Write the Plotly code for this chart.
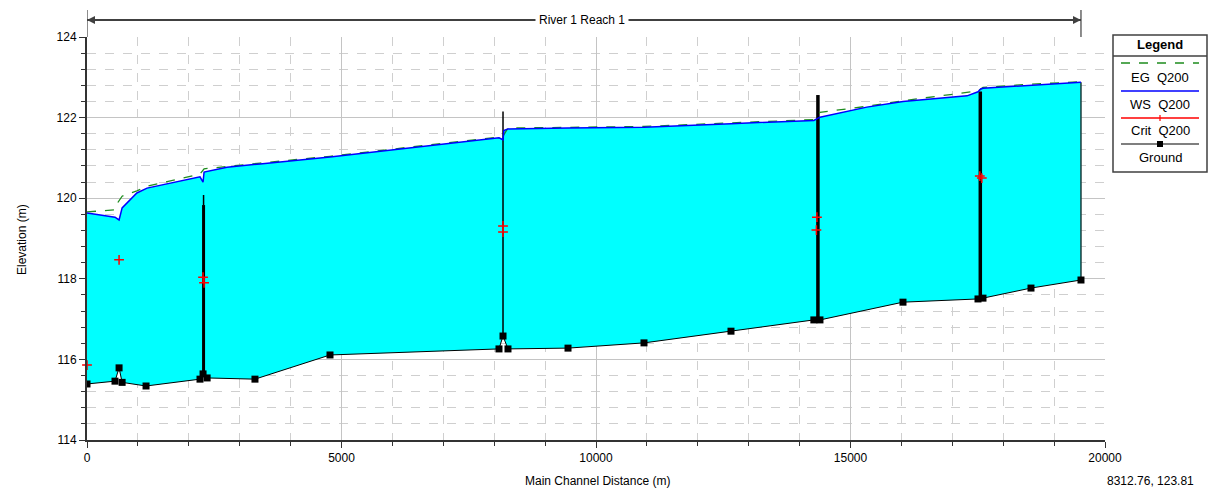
import plotly.graph_objects as go

# ---------------- data ----------------
ground_x = [0, 550, 630, 690, 1160, 2220, 2280, 2360, 3300, 4774, 8094, 8173, 8271,
            9450, 10943, 12652, 14280, 14400, 16031, 17505, 17603, 18546, 19528]
ground_y = [115.39, 115.46, 115.79, 115.43, 115.34, 115.51, 115.64, 115.54, 115.51,
            116.11, 116.26, 116.58, 116.26, 116.28, 116.41, 116.70, 116.98, 116.98,
            117.42, 117.50, 117.52, 117.77, 117.97]

ws_x = [0, 118, 550, 630, 690, 980, 1180, 2220, 2280, 2300, 2750, 3400, 4774, 8094,
        8173, 8190, 8271, 9450, 10943, 12652, 14000, 14280, 14400, 15320, 16031, 17290,
        17505, 17560, 17603, 18546, 19528]
ws_y = [119.63, 119.61, 119.53, 119.46, 119.76, 120.13, 120.25, 120.53, 120.40, 120.65,
        120.77, 120.85, 121.02, 121.50, 121.45, 121.68, 121.72, 121.74, 121.76, 121.85,
        121.92, 121.93, 122.01, 122.26, 122.40, 122.54, 122.64, 122.71, 122.73, 122.81,
        122.88]

eg_x = [0, 550, 610, 690, 980, 1180, 2220, 2300, 3400, 4774, 8094, 8173, 8271, 9450,
        10943, 12652, 14280, 14400, 15320, 16031, 17505, 17603, 18546, 19528]
eg_y = [119.66, 119.71, 119.90, 120.05, 120.18, 120.30, 120.60, 120.73, 120.87, 121.04,
        121.52, 121.54, 121.74, 121.76, 121.78, 121.87, 121.95, 122.13, 122.28, 122.42,
        122.66, 122.75, 122.83, 122.89]

crit_x = [0, 630, 2280, 2300, 8173, 8173, 14340, 14330, 17540, 17580]
crit_y = [115.86, 118.47, 118.04, 117.90, 119.31, 119.16, 119.53, 119.21, 120.55, 120.50]

# structures (vertical lines): station, bottom, top, width
struct_x = [2290, 2290, 8173, 14360, 17550]
struct_bot = [115.64, 119.83, 116.58, 116.98, 117.51]
struct_top = [119.83, 120.08, 122.15, 122.56, 122.65]
struct_w = [3, 1.5, 1.5, 3.5, 3.5]

x_ticks = [0, 5000, 10000, 15000, 20000]
y_ticks = [114, 116, 118, 120, 122, 124]

reach_label = "River 1 Reach 1"
legend_labels = ["EG  Q200", "WS  Q200", "Crit  Q200", "Ground"]
coord_text = "8312.76, 123.81"

FONT = "Liberation Sans"

# ---------------- figure ----------------
fig = go.Figure()

# water fill between WS and ground
fig.add_trace(go.Scatter(
    x=ws_x + ground_x[::-1], y=ws_y + ground_y[::-1],
    fill="toself", fillcolor="#00FFFF", mode="lines",
    line=dict(width=0), hoverinfo="skip", showlegend=False))

# right boundary
fig.add_trace(go.Scatter(x=[ground_x[-1], ws_x[-1]], y=[ground_y[-1], ws_y[-1]],
                         mode="lines", line=dict(color="#1a3a3a", width=1.5),
                         showlegend=False))

# ground
fig.add_trace(go.Scatter(x=ground_x, y=ground_y, mode="lines+markers",
                         line=dict(color="black", width=1),
                         marker=dict(symbol="square", size=7, color="black"),
                         name="Ground", showlegend=False))

# structures
for sx, b, t, w in zip(struct_x, struct_bot, struct_top, struct_w):
    fig.add_trace(go.Scatter(x=[sx, sx], y=[b, t], mode="lines",
                             line=dict(color="black", width=w), showlegend=False))

# EG
fig.add_trace(go.Scatter(x=eg_x, y=eg_y, mode="lines",
                         line=dict(color="#1e8c1e", width=1.3, dash="dash"),
                         name="EG Q200", showlegend=False))
# WS
fig.add_trace(go.Scatter(x=ws_x, y=ws_y, mode="lines",
                         line=dict(color="#0000FF", width=1.5),
                         name="WS Q200", showlegend=False))
# Crit
fig.add_trace(go.Scatter(x=crit_x, y=crit_y, mode="markers",
                         marker=dict(symbol="cross-thin", size=7,
                                     line=dict(color="#FF0000", width=1.5)),
                         name="Crit Q200", showlegend=False, cliponaxis=False))

# ---------------- layout helpers ----------------
L, R, T, B = 87, 1105, 37, 440


def px(xp):
    return (xp - L) / (R - L)


def py(yp):
    return (B - yp) / (B - T)


shapes = []
annotations = []

# reach arrow
arrow_y = py(20)
shapes.append(dict(type="line", xref="x", yref="paper", x0=ground_x[0], x1=ground_x[-1],
                   y0=arrow_y, y1=arrow_y, line=dict(color="#404040", width=2)))
for sx in (ground_x[0], ground_x[-1]):
    shapes.append(dict(type="line", xref="x", yref="paper", x0=sx, x1=sx,
                       y0=py(37), y1=py(10), line=dict(color="#404040", width=1.2)))
annotations.append(dict(x=ground_x[0], y=arrow_y, xref="x", yref="paper", text="",
                        showarrow=True, ax=40, ay=0, axref="pixel", ayref="pixel",
                        arrowhead=2, arrowsize=0.8, arrowwidth=2, arrowcolor="#404040"))
annotations.append(dict(x=ground_x[-1], y=arrow_y, xref="x", yref="paper", text="",
                        showarrow=True, ax=-40, ay=0, axref="pixel", ayref="pixel",
                        arrowhead=2, arrowsize=0.8, arrowwidth=2, arrowcolor="#404040"))
annotations.append(dict(x=px(582), y=arrow_y, xref="paper", yref="paper",
                        text=reach_label, showarrow=False, bgcolor="white",
                        borderpad=3, font=dict(family=FONT, size=12, color="black"),
                        xanchor="center", yanchor="middle"))

# axis titles and coordinate readout
annotations.append(dict(x=px(597), y=py(481), xref="paper", yref="paper",
                        text="Main Channel Distance (m)", showarrow=False,
                        font=dict(family=FONT, size=12, color="black"),
                        xanchor="center", yanchor="middle"))
annotations.append(dict(x=px(22), y=py(240), xref="paper", yref="paper",
                        text="Elevation (m)", showarrow=False, textangle=-90,
                        font=dict(family=FONT, size=12, color="black"),
                        xanchor="center", yanchor="middle"))
annotations.append(dict(x=px(1150), y=py(481), xref="paper", yref="paper",
                        text=coord_text, showarrow=False,
                        font=dict(family=FONT, size=12, color="black"),
                        xanchor="center", yanchor="middle"))

# custom legend box
shapes.append(dict(type="rect", xref="paper", yref="paper", x0=px(1113), x1=px(1207),
                   y0=py(172), y1=py(35), line=dict(color="#404040", width=1.5),
                   fillcolor="white", layer="above"))
shapes.append(dict(type="line", xref="paper", yref="paper", x0=px(1113), x1=px(1207),
                   y0=py(56), y1=py(56), line=dict(color="#404040", width=1.5)))
annotations.append(dict(x=px(1160), y=py(45), xref="paper", yref="paper",
                        text="<b>Legend</b>", showarrow=False,
                        font=dict(family=FONT, size=13, color="black"),
                        xanchor="center", yanchor="middle"))
sample_y = [63, 91, 118, 144]
label_y = [77, 104, 130, 158]
sample_style = [dict(color="#1e8c1e", width=1.5, dash="dash"),
                dict(color="#0000FF", width=1.5),
                dict(color="#FF0000", width=1.5),
                dict(color="black", width=1.2)]
for sy, st in zip(sample_y, sample_style):
    shapes.append(dict(type="line", xref="paper", yref="paper", x0=px(1121), x1=px(1199),
                       y0=py(sy), y1=py(sy), line=st))
shapes.append(dict(type="line", xref="paper", yref="paper", x0=px(1160), x1=px(1160),
                   y0=py(115), y1=py(121), line=dict(color="#FF0000", width=1.2)))
shapes.append(dict(type="rect", xref="paper", yref="paper", x0=px(1157), x1=px(1163),
                   y0=py(147), y1=py(141), line=dict(color="black", width=0),
                   fillcolor="black"))
for ly, txt in zip(label_y, legend_labels):
    annotations.append(dict(x=px(1160), y=py(ly), xref="paper", yref="paper",
                            text=txt, showarrow=False,
                            font=dict(family=FONT, size=13, color="black"),
                            xanchor="center", yanchor="middle"))

grid_major = "#c4c4c4"
grid_minor = "#cfcfcf"

fig.update_layout(
    width=1215, height=490, autosize=False,
    margin=dict(l=L, r=1215 - R, t=T, b=490 - B),
    paper_bgcolor="white", plot_bgcolor="white",
    showlegend=False,
    shapes=shapes, annotations=annotations,
    font=dict(family=FONT, size=12, color="black"),
    xaxis=dict(range=[0, 20000], tickvals=x_ticks, ticktext=[str(v) for v in x_ticks],
               showgrid=True, gridcolor=grid_major, gridwidth=1,
               ticks="outside", ticklen=6, tickcolor="#333", tickwidth=1,
               showline=True, linecolor="#333", linewidth=2, zeroline=False,
               tickfont=dict(family=FONT, size=12, color="black"),
               minor=dict(dtick=1000, showgrid=True, gridcolor=grid_minor,
                          griddash="dash", gridwidth=1, ticks="outside", ticklen=4,
                          tickcolor="#333")),
    yaxis=dict(range=[114, 124], tickvals=y_ticks, ticktext=[str(v) for v in y_ticks],
               showgrid=True, gridcolor=grid_major, gridwidth=1,
               ticks="outside", ticklen=6, tickcolor="#333", tickwidth=1,
               showline=True, linecolor="#333", linewidth=2, zeroline=False,
               tickfont=dict(family=FONT, size=12, color="black"),
               minor=dict(tick0=114, dtick=0.4, showgrid=True, gridcolor=grid_minor,
                          griddash="dash", gridwidth=1, ticks="outside", ticklen=4,
                          tickcolor="#333")),
)

fig.write_html("out.html")
